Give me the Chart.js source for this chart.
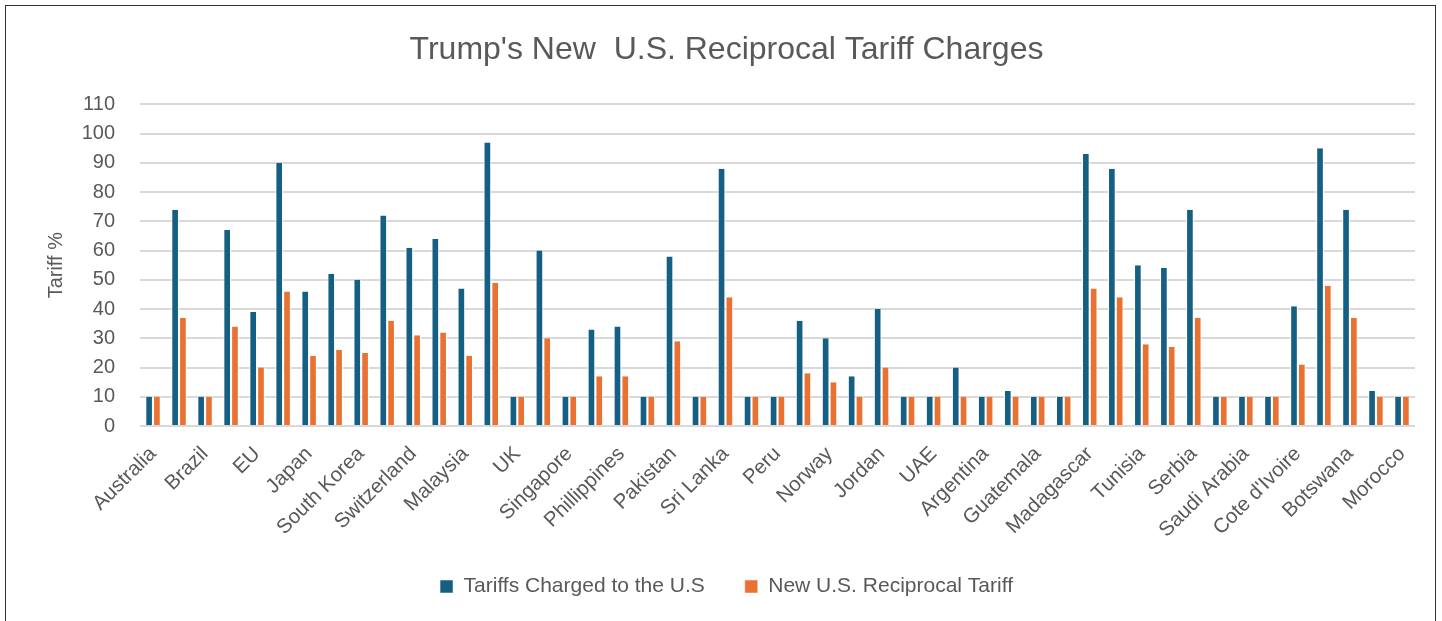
<!DOCTYPE html>
<html>
<head>
<meta charset="utf-8">
<script src="https://cdn.jsdelivr.net/npm/chart.js@4.4.1/dist/chart.umd.min.js"></script>
<style>
  html, body { margin: 0; padding: 0; background: #fff; }
  #wrap {
    position: absolute; left: 5px; top: 5px;
    width: 1431px; height: 620px;
    border-left: 1.5px solid #333; border-top: 1.5px solid #333; border-right: 1.5px solid #333;
    box-sizing: border-box;
  }
  canvas { display: block; }
</style>
</head>
<body>
<div id="wrap"><canvas id="tariffChart"></canvas></div>
<script>
// countries (only every other one gets a visible label, as in the original)
const countries = [
  "Australia", "Bangladesh", "Brazil", "China", "EU", "Vietnam", "Japan", "India",
  "South Korea", "Thailand", "Switzerland", "Taiwan", "Malaysia", "Cambodia", "UK",
  "South Africa", "Singapore", "Israel", "Phillippines", "Chile", "Pakistan", "Turkey",
  "Sri Lanka", "Colombia", "Peru", "Nicaragua", "Norway", "Costa Rica", "Jordan",
  "Dominican Republic", "UAE", "New Zealand", "Argentina", "Ecuador", "Guatemala",
  "Honduras", "Madagascar", "Myanmar", "Tunisia", "Kazakhstan", "Serbia", "Egypt",
  "Saudi Arabia", "El Salvador", "Cote d'Ivoire", "Laos", "Botswana",
  "Trinidad and Tobago", "Morocco"
];

const chargedToUS = [
  10, 74, 10, 67, 39, 90, 46, 52, 50, 72, 61, 64, 47, 97, 10,
  60, 10, 33, 34, 10, 58, 10, 88, 10, 10, 36, 30, 17, 40, 10,
  10, 20, 10, 12, 10, 10, 93, 88, 55, 54, 74, 10, 10, 10, 41,
  95, 74, 12, 10
];

const reciprocal = [
  10, 37, 10, 34, 20, 46, 24, 26, 25, 36, 31, 32, 24, 49, 10,
  30, 10, 17, 17, 10, 29, 10, 44, 10, 10, 18, 15, 10, 20, 10,
  10, 10, 10, 10, 10, 10, 47, 44, 28, 27, 37, 10, 10, 10, 21,
  48, 37, 10, 10
];

const yTicks = [0, 10, 20, 30, 40, 50, 60, 70, 80, 90, 100, 110];

const grey = "#595959";
const font = "'Liberation Sans', Arial, sans-serif";

new Chart(document.getElementById("tariffChart"), {
  type: "bar",
  data: {
    labels: countries,
    datasets: [
      {
        label: "Tariffs Charged to the U.S",
        data: chargedToUS,
        backgroundColor: "#156082",
        borderColor: "#ffffff",
        borderWidth: { left: 1, right: 1, top: 0, bottom: 0 },
        barPercentage: 0.98,
        categoryPercentage: 0.6
      },
      {
        label: "New U.S. Reciprocal Tariff",
        data: reciprocal,
        backgroundColor: "#E97132",
        borderColor: "#ffffff",
        borderWidth: { left: 1, right: 1, top: 0, bottom: 0 },
        barPercentage: 0.98,
        categoryPercentage: 0.6
      }
    ]
  },
  options: {
    responsive: true,
    maintainAspectRatio: false,
    animation: false,
    layout: { padding: { left: 32, right: 20, bottom: 18 } },
    plugins: {
      title: {
        display: true,
        text: "Trump's New  U.S. Reciprocal Tariff Charges",
        color: grey,
        font: { family: font, size: 32, weight: "normal" },
        padding: { top: 25, bottom: 35 }
      },
      legend: {
        position: "bottom",
        labels: {
          color: grey,
          font: { family: font, size: 21 },
          boxWidth: 13,
          boxHeight: 13,
          padding: 40
        }
      },
      tooltip: { enabled: false }
    },
    scales: {
      x: {
        grid: { display: false },
        border: { display: false },
        ticks: {
          autoSkip: false,
          maxRotation: 45,
          minRotation: 45,
          padding: 8,
          color: grey,
          font: { family: font, size: 20.5 },
          callback: function (value, index) {
            return index % 2 === 0 ? countries[index] : "";
          }
        },
        afterFit: function (scale) { scale.height = 110; }
      },
      y: {
        min: 0,
        max: 110,
        afterBuildTicks: function (scale) {
          scale.ticks = yTicks.map(v => ({ value: v }));
        },
        grid: { color: "#d9d9d9", lineWidth: 2, drawTicks: false },
        border: { display: false },
        ticks: {
          color: grey,
          font: { family: font, size: 20 },
          padding: 25
        },
        title: {
          display: true,
          text: "Tariff %",
          color: grey,
          font: { family: font, size: 20 },
          padding: { top: 6, bottom: 0 }
        },
        afterFit: function (scale) { scale.width = 102; }
      }
    }
  }
});
</script>
</body>
</html>
